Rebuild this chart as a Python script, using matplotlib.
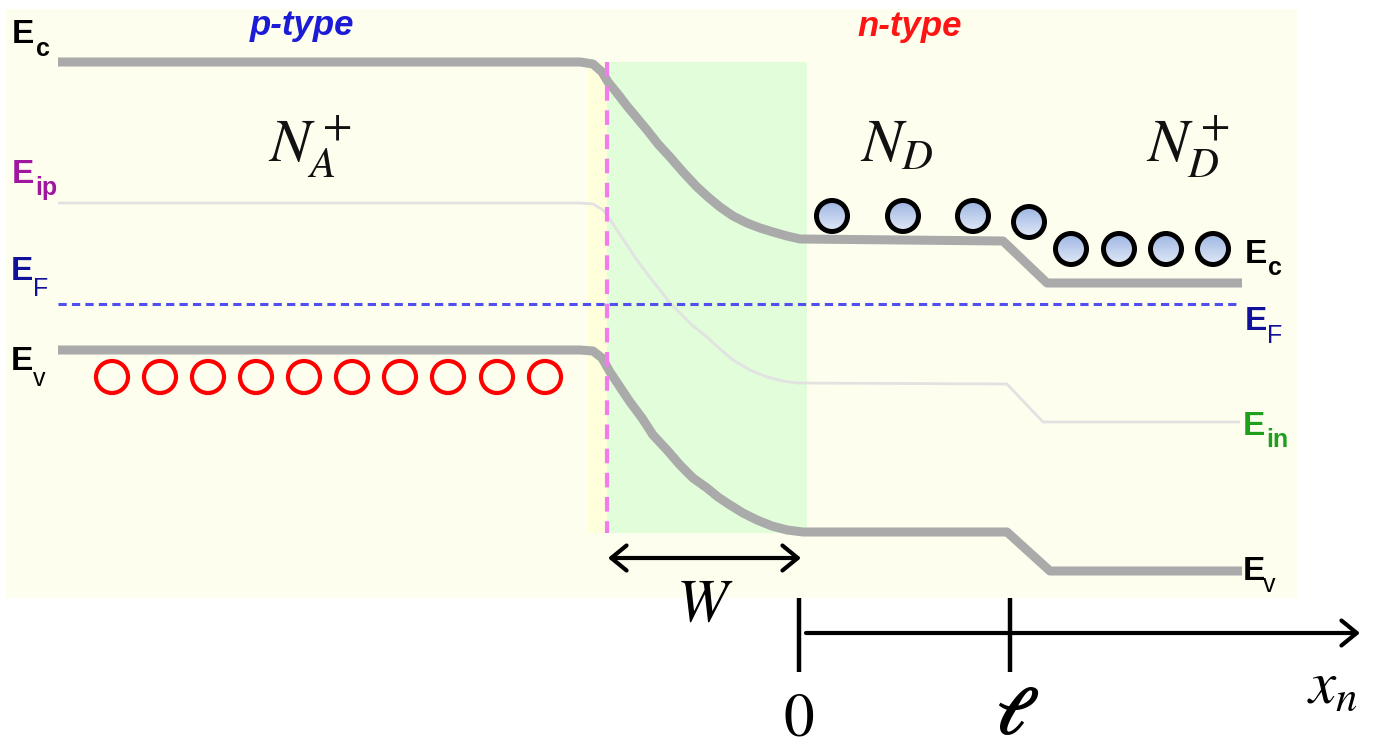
"""Band diagram of a p+ / n / n+ junction, drawn in pixel coordinates"""

import numpy as np
import matplotlib.pyplot as plt
from matplotlib.patches import Rectangle, Circle

plt.rcParams['mathtext.fontset'] = 'stix'

#  Band edges (x, y in pixels, y grows downwards)
ec_x = [58, 580, 593, 602, 608, 617, 627, 637, 647, 658, 670, 683, 697, 708, 720, 733,
        747, 760, 773, 787, 800, 1003, 1047, 1242]
ec_y = [62, 62, 64, 72, 82, 93, 106, 118, 130, 144, 157, 172, 187, 197, 207, 216,
        223, 228, 232, 236, 239, 241, 283, 283]
ev_x = [58, 580, 593, 602, 610, 620, 630, 642, 653, 667, 680, 693, 707, 718, 730, 743,
        757, 772, 787, 803, 1007, 1050, 1242]
ev_y = [350, 350, 351, 358, 372, 387, 402, 418, 435, 450, 465, 478, 488, 497, 505, 513,
        520, 526, 530, 532, 532, 571, 571]
ei_x = [58, 580, 593, 603, 610, 617, 627, 637, 648, 660, 670, 680, 693, 707, 720, 733,
        750, 767, 783, 797, 1007, 1043, 1240]
ei_y = [203, 203, 204, 210, 219, 230, 245, 260, 275, 290, 303, 313, 326, 337, 349, 360,
        370, 377, 381, 383, 384, 422, 422]
ef_x = [58, 1238]
ef_y = [304, 304]

# Carriers
holes_x = [112, 160, 208, 256, 304, 352, 400, 448, 497, 545]
holes_y = [377] * 10
elec_x = [832, 903, 973, 1029, 1071, 1119, 1166, 1213]
elec_y = [216, 216, 216, 222, 249, 249, 249, 249]

# Regions
junction_x = 607
depl_right = 807
region_top, region_bot = 62, 533
x0_pos, ell_pos = 799, 1010

fig = plt.figure(figsize=(13.76, 7.47), dpi=100)
ax = fig.add_axes([0, 0, 1, 1])

# Backgrounds
ax.add_patch(Rectangle((6, 9), 1291, 589, color='#FEFEEF', lw=0, zorder=0))
ax.add_patch(Rectangle((588, region_top), junction_x - 588, region_bot - region_top,
                       color='#FFFFDC', lw=0, zorder=0.5))
ax.add_patch(Rectangle((junction_x, region_top), depl_right - junction_x, region_bot - region_top,
                       color='#E1FDD9', lw=0, zorder=0.5))

# Levels
ax.plot(ei_x, ei_y, color='#E2E2E2', lw=2, zorder=1, solid_capstyle='butt',
        solid_joinstyle='round')
ax.plot(ef_x, ef_y, color='#5050EE', lw=2.2, dashes=(2.7, 1.7), zorder=2)
ax.plot(ec_x, ec_y, color='#AAAAAA', lw=6.5, zorder=3, solid_capstyle='butt', solid_joinstyle='round')
ax.plot(ev_x, ev_y, color='#AAAAAA', lw=6.5, zorder=3, solid_capstyle='butt', solid_joinstyle='round')
ax.plot([junction_x, junction_x], [region_top, region_bot], color='#F27CEE', lw=3,
        dashes=(3.5, 2.3), zorder=4)

# Holes
for hx, hy in zip(holes_x, holes_y):
    ax.add_patch(Circle((hx, hy), 16, facecolor='none', edgecolor='#FF0000', lw=3, zorder=5))

# Electrons with a vertical gradient fill
grad = np.linspace(0, 1, 64).reshape(-1, 1)
cmap = plt.matplotlib.colors.LinearSegmentedColormap.from_list('el', ['#9CB4E2', '#E2EAF7'])
for exx, eyy in zip(elec_x, elec_y):
    im = ax.imshow(grad, cmap=cmap, extent=(exx - 16, exx + 16, eyy + 16, eyy - 16),
                   aspect='auto', zorder=5, interpolation='bilinear')
    im.set_clip_path(Circle((exx, eyy), 15.5, transform=ax.transData))
    ax.add_patch(Circle((exx, eyy), 15.5, facecolor='none', edgecolor='black', lw=3.6, zorder=6))

ax.set_xlim(0, 1376)
ax.set_ylim(747, 0)
ax.axis('off')


# Level labels
def level_label(x, y, sub, color, sub_dx, sub_dy=13, sub_weight='bold'):
    ax.text(x, y, 'E', fontsize=24, fontweight='bold', color=color,
            family='Liberation Sans', va='baseline', ha='left', zorder=7)
    ax.text(x + sub_dx, y + sub_dy, sub, fontsize=18, fontweight=sub_weight, color=color,
            family='Liberation Sans', va='baseline', ha='left', zorder=7)


level_label(12, 43, 'c', 'black', 24)
level_label(12, 183, 'ip', '#A0179F', 23, 12)
level_label(11, 280, 'F', '#10109A', 22, 16, 'normal')
level_label(11, 370, 'v', 'black', 22, 16, 'normal')
level_label(1245, 263, 'c', 'black', 23, 12)
level_label(1245, 330, 'F', '#10109A', 22, 13, 'normal')
level_label(1243, 435, 'in', '#1EA01E', 23, 12)
level_label(1243, 580, 'v', 'black', 20, 12, 'normal')

ax.text(302, 35, 'p-type', fontsize=25, fontweight='bold', fontstyle='italic',
        color='#1C1CD6', family='Liberation Sans', ha='center', va='baseline')
ax.text(910, 36, 'n-type', fontsize=25, fontweight='bold', fontstyle='italic',
        color='#FF1414', family='Liberation Sans', ha='center', va='baseline')

ax.text(268, 162, r'$N_A^+$', fontsize=44, ha='left', va='baseline', color='#111111')
ax.text(860, 162, r'$N_D$', fontsize=44, ha='left', va='baseline', color='#111111')
ax.text(1146, 162, r'$N_D^+$', fontsize=44, ha='left', va='baseline', color='#111111')

# Depletion width arrow
ax.annotate('', xy=(801, 558), xytext=(608, 558),
            arrowprops=dict(arrowstyle='<->,head_length=0.55,head_width=0.45', lw=3,
                            color='black', shrinkA=0, shrinkB=0, mutation_scale=20))
ax.text(705, 621, r'$W$', fontsize=44, ha='center', va='baseline')

# x_n axis
ax.annotate('', xy=(1360, 633), xytext=(806, 633),
            arrowprops=dict(arrowstyle='->,head_length=0.55,head_width=0.45', lw=3,
                            color='black', shrinkA=0, shrinkB=0, mutation_scale=20))
for tx in [x0_pos, ell_pos]:
    ax.plot([tx, tx], [598, 672], color='black', lw=3.2, solid_capstyle='butt')
ax.text(x0_pos, 736, r'$0$', fontsize=44, ha='center', va='baseline')
ax.text(ell_pos + 2, 734, '\u2113', fontsize=48, fontweight='bold', fontstyle='italic',
        family='STIXGeneral', ha='center', va='baseline')
ax.text(1307, 703, r'$x_n$', fontsize=44, ha='left', va='baseline')

fig.savefig('out.png', dpi=100)
